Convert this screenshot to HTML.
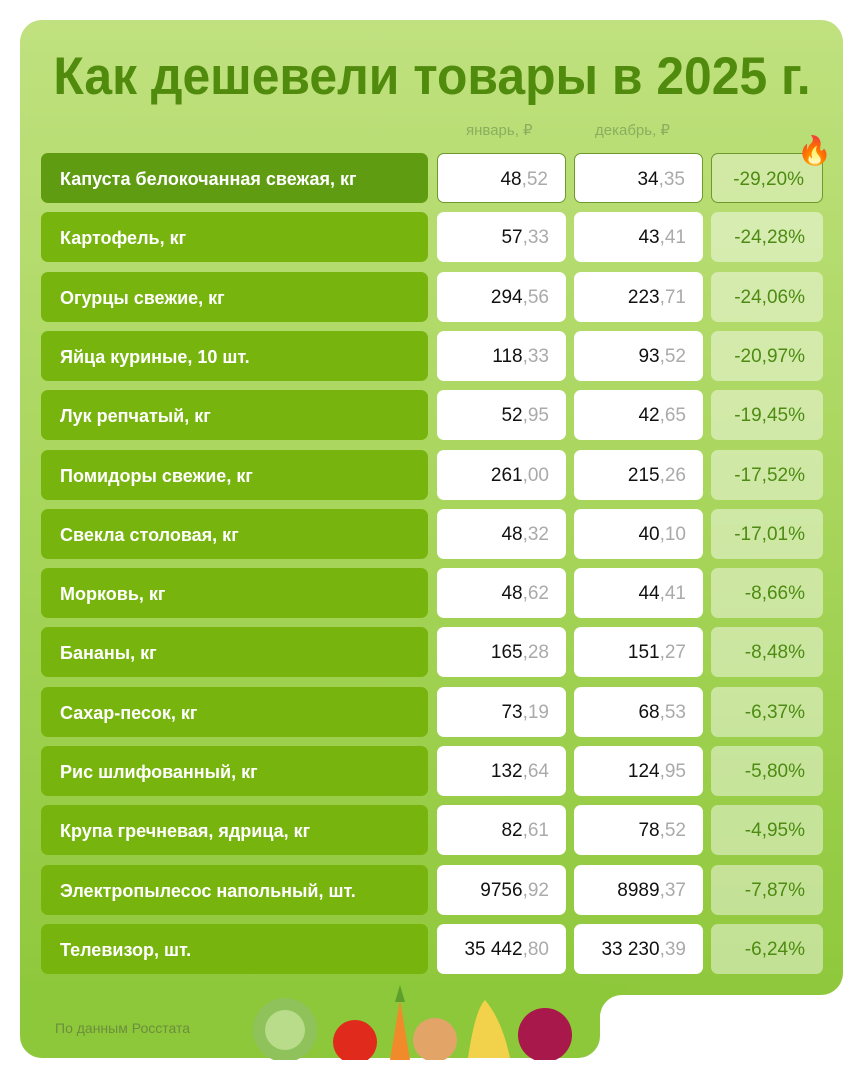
<!DOCTYPE html>
<html><head><meta charset="utf-8"><style>
body{margin:0;width:864px;height:1080px;background:#fff;position:relative;overflow:hidden;font-family:"Liberation Sans","DejaVu Sans",sans-serif}
.bg{position:absolute;left:20px;top:20px;width:823px;height:975px;border-radius:22px 22px 22px 0;background:linear-gradient(180deg,#c0e17f 0%,#a9d65d 48%,#8fc83c 100%)}
.bg2{position:absolute;left:20px;top:980px;width:580px;height:78px;border-radius:0 0 22px 22px;background:#8dc73a}
.fill{position:absolute;left:598px;top:985px;width:30px;height:30px;background:#8dc73a}
.cut{position:absolute;left:600px;top:995px;width:264px;height:85px;background:#fff;border-top-left-radius:22px}
h1{position:absolute;left:0;width:864px;top:46px;margin:0;text-align:center;font-size:53px;font-weight:bold;color:#518b0d;transform:scaleX(0.94);white-space:nowrap}
.hd{position:absolute;top:121px;font-size:15px;color:#8aae5e}
.lab{position:absolute;left:41px;width:387px;height:50px;border-radius:7px;background:#78b40e;color:#fff;font-weight:bold;font-size:18px;line-height:52px;box-sizing:border-box;padding-left:19px;white-space:nowrap}
.n{position:absolute;width:129px;height:50px;border-radius:7px;background:#fff;text-align:right;box-sizing:border-box;padding-right:17px;font-size:19px;line-height:52px;color:#111}
.n span{color:#aaa}
.p{position:absolute;left:711px;width:112px;height:50px;border-radius:7px;background:rgba(255,255,255,.45);text-align:right;box-sizing:border-box;padding-right:18px;font-size:19px;line-height:52px;color:#4d8b12}
.src{position:absolute;left:55px;top:1020px;font-size:14px;color:#6b8f3c}
</style></head><body>
<div class="bg"></div><div class="bg2"></div><div class="fill"></div><div class="cut"></div>
<h1>Как дешевели товары в 2025 г.</h1>
<div class="hd" style="left:466px">январь, ₽</div>
<div class="hd" style="left:595px">декабрь, ₽</div>
<div id="t"></div>
<script>
var d=[["Капуста белокочанная свежая, кг","48","52","34","35","-29,20%"],
["Картофель, кг","57","33","43","41","-24,28%"],
["Огурцы свежие, кг","294","56","223","71","-24,06%"],
["Яйца куриные, 10 шт.","118","33","93","52","-20,97%"],
["Лук репчатый, кг","52","95","42","65","-19,45%"],
["Помидоры свежие, кг","261","00","215","26","-17,52%"],
["Свекла столовая, кг","48","32","40","10","-17,01%"],
["Морковь, кг","48","62","44","41","-8,66%"],
["Бананы, кг","165","28","151","27","-8,48%"],
["Сахар-песок, кг","73","19","68","53","-6,37%"],
["Рис шлифованный, кг","132","64","124","95","-5,80%"],
["Крупа гречневая, ядрица, кг","82","61","78","52","-4,95%"],
["Электропылесос напольный, шт.","9756","92","8989","37","-7,87%"],
["Телевизор, шт.","35 442","80","33 230","39","-6,24%"]];
var h="";
d.forEach(function(r,i){var y=Math.round(153+i*59.3);
var first=i==0;
h+='<div class="lab" style="top:'+y+'px;'+(first?'background:#5f9c12':'')+'">'+r[0]+'</div>';
h+='<div class="n" style="left:437px;top:'+y+'px;'+(first?'border:1px solid #6d9a2a':'')+'">'+r[1]+'<span>,'+r[2]+'</span></div>';
h+='<div class="n" style="left:574px;top:'+y+'px;'+(first?'border:1px solid #6d9a2a':'')+'">'+r[3]+'<span>,'+r[4]+'</span></div>';
h+='<div class="p" style="top:'+y+'px;'+(first?'border:1px solid #6d9a2a;background:rgba(255,255,255,.35)':'')+'">'+r[5]+'</div>';});
document.getElementById("t").innerHTML=h;
</script>
<div style="position:absolute;left:797px;top:134px;font-size:28px">🔥</div>
<div class="src">По данным Росстата</div>
<svg style="position:absolute;left:240px;top:980px" width="340" height="80">
<circle cx="45" cy="50" r="32" fill="#8fc25a"/><circle cx="45" cy="50" r="20" fill="#b8dc8a"/>
<circle cx="115" cy="62" r="22" fill="#e02a1c"/>
<path d="M150 80 L160 20 L170 80Z" fill="#f08a2a"/><path d="M155 22 L160 5 L165 22Z" fill="#5aa02a"/>
<ellipse cx="195" cy="60" rx="22" ry="22" fill="#e3a468"/>
<path d="M228 78 Q235 30 245 20 Q262 40 270 78Z" fill="#f2d24a"/>
<circle cx="305" cy="55" r="27" fill="#a8184a"/>
</svg>
</body></html>
